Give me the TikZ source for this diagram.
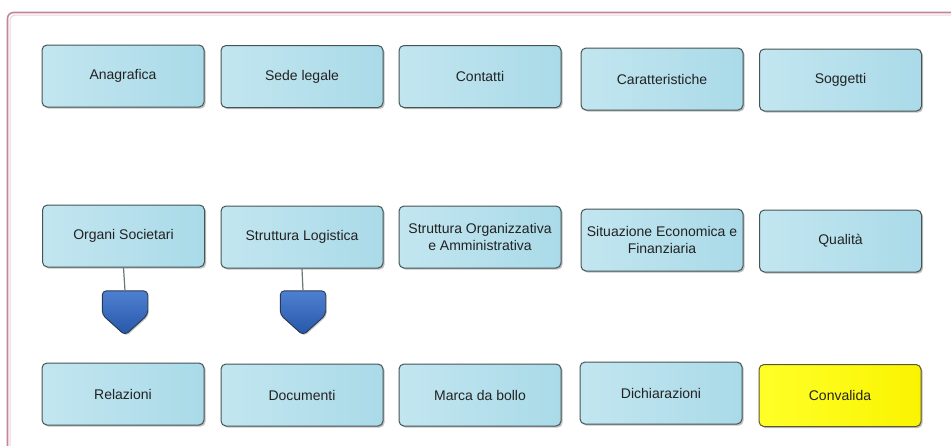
\documentclass[tikz,border=0pt]{standalone}
\usepackage{fontspec}
\setmainfont{Liberation Sans}
\usetikzlibrary{shadows,calc}
\definecolor{boxlight}{RGB}{194,230,240}
\definecolor{boxdark}{RGB}{170,218,232}
\definecolor{boxedge}{RGB}{70,84,86}
\definecolor{txt}{RGB}{34,34,34}
\definecolor{yellowA}{RGB}{255,255,40}
\definecolor{yellowB}{RGB}{250,244,0}
\definecolor{yedge}{RGB}{90,88,50}
\definecolor{shieldA}{RGB}{78,128,210}
\definecolor{shieldB}{RGB}{38,86,168}
\definecolor{shieldedge}{RGB}{40,56,80}
\definecolor{framepink}{RGB}{196,132,156}
\definecolor{frameinner}{RGB}{232,214,222}
\tikzset{
  stepbox/.style={draw=boxedge, line width=1pt, rounded corners=5pt,
    left color=boxlight, right color=boxdark,
    minimum width=162pt, minimum height=62pt, inner sep=0pt,
    align=center, text=txt, font=\fontsize{14}{17}\selectfont,
    drop shadow={shadow xshift=1.6pt, shadow yshift=-1.6pt, opacity=0.35, fill=black!70}},
  okbox/.style={stepbox, left color=yellowA, right color=yellowB, draw=yedge},
  shieldbox/.style={minimum width=45pt, minimum height=44pt, inner sep=0pt},
  shieldshape/.style={draw=shieldedge, line width=0.9pt, rounded corners=4pt,
    top color=shieldA, bottom color=shieldB,
    drop shadow={shadow xshift=1.2pt, shadow yshift=-1.2pt, opacity=0.3, fill=black!70}},
  link/.style={draw=boxedge!80, line width=1.2pt}
}
\begin{document}
\begin{tikzpicture}[x=1pt,y=-1pt]
\useasboundingbox (0,0) rectangle (951,445);
\fill[white] (0,0) rectangle (951,445);
% frame
\begin{scope}
\clip (0,0) rectangle (951,445);
\draw[framepink, line width=1.6pt, rounded corners=6pt] (7.5,12.5) rectangle (980,470);
\draw[frameinner, line width=1pt, rounded corners=5pt] (10,15) rectangle (980,470);
\end{scope}
% row 1
\node[stepbox] (anag) at (123,76) {Anagrafica};
\node[stepbox] (sede) at (302,76.5) {Sede legale};
\node[stepbox] (cont) at (480,76.5) {Contatti};
\node[stepbox] (cara) at (662,79) {Caratteristiche};
\node[stepbox] (sogg) at (840.5,80) {Soggetti};
% row 2
\node[stepbox] (orga) at (123.5,236) {Organi Societari};
\node[stepbox] (logi) at (302,237) {Struttura Logistica};
\node[stepbox] (sorg) at (480,237) {Struttura Organizzativa\\e Amministrativa};
\node[stepbox] (situ) at (662,240) {Situazione Economica e\\Finanziaria};
\node[stepbox] (qual) at (840.5,241) {Qualità};
% row 3
\node[stepbox] (rela) at (123,394) {Relazioni};
\node[stepbox] (docu) at (302,395) {Documenti};
\node[stepbox] (marc) at (480,395) {Marca da bollo};
\node[stepbox] (dich) at (661,393) {Dichiarazioni};
\node[okbox] (conv) at (840,395.5) {Convalida};
% shields
\node[shieldbox] (sh1) at (125,313) {};
\node[shieldbox] (sh2) at (303,313) {};
\foreach \s in {sh1,sh2}{
  \path[shieldshape] (\s.north west) -- (\s.north east) -- ($(\s.north east)+(0,24)$)
    -- (\s.south) -- ($(\s.north west)+(0,24)$) -- cycle;
}
\draw[link] (orga.south) -- (sh1.north);
\draw[link] (logi.south) -- (sh2.north);
\end{tikzpicture}
\end{document}
